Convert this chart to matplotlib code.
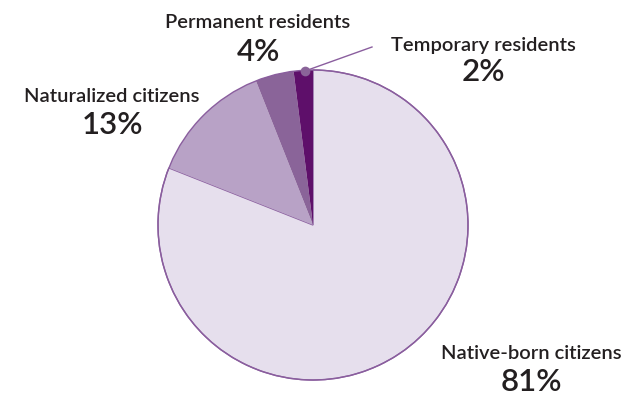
import matplotlib
matplotlib.use('Agg')
import matplotlib.pyplot as plt
from matplotlib.patches import Circle

labels = ['Native-born citizens', 'Naturalized citizens', 'Permanent residents', 'Temporary residents']
shares = [81, 13, 4, 2]
colors = ['#E6DFED', '#B8A2C6', '#8A6499', '#5E0F6A']
edge = '#8A5E9E'

fig = plt.figure(figsize=(6.33, 3.96), dpi=100)
ax = fig.add_axes([0, 0, 1, 1])

# work in pixel units, y measured from the bottom
cx, cy, r = 313, 171, 155
wedges, _ = ax.pie(shares, colors=colors, startangle=90, counterclock=False,
                   center=(cx, cy), radius=r, frame=True,
                   wedgeprops=dict(linewidth=0))
wedges[0].set_edgecolor(edge)
wedges[0].set_linewidth(1)
ax.add_patch(Circle((cx, cy), r, fill=False, edgecolor=edge, linewidth=1))
ax.set_xlim(0, 633)
ax.set_ylim(0, 396)
ax.set_aspect('equal')
ax.axis('off')

# leader for the small slice
ax.plot([305, 372], [325, 349], color=edge, lw=1)
ax.plot([305], [325], 'o', color='#8A6499', ms=7, mec='none')

font = dict(family=['Lato', 'DejaVu Sans'], color='#231F20')
# name, value, x centre, baseline of name, baseline of value
txt = [
    (labels[2], shares[2], 258, 368, 335),
    (labels[3], shares[3], 483, 345, 315),
    (labels[1], shares[1], 112, 294, 262),
    (labels[0], shares[0], 531, 37, 5),
]
for name, val, x, y1, y2 in txt:
    ax.text(x, y1, name, ha='center', va='baseline', fontsize=14.5, fontweight='semibold', **font)
    ax.text(x, y2, f'{val}%', ha='center', va='baseline', fontsize=22.5, fontweight='semibold', **font)

fig.savefig('out.png', dpi=100)
